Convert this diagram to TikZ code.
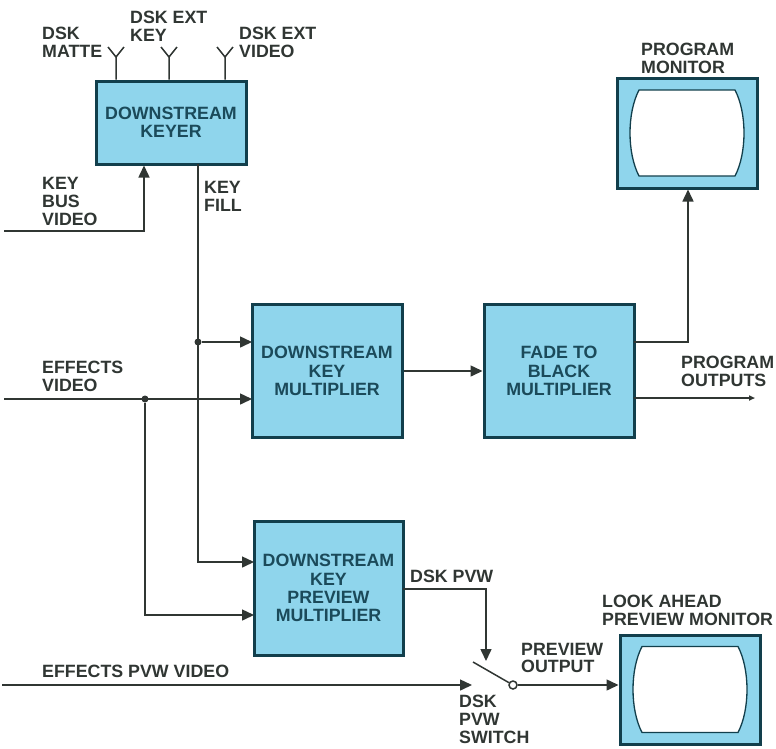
\documentclass[tikz,border=0pt]{standalone}
\usepackage{fontspec}
\setmainfont{Liberation Sans}
\usetikzlibrary{arrows.meta}
\definecolor{boxblue}{HTML}{8FD5EC}
\definecolor{boxline}{HTML}{123F4C}
\definecolor{boxtext}{HTML}{1B4A5A}
\definecolor{wiregray}{HTML}{303633}
\tikzset{
    block/.style={draw=boxline, line width=3pt, fill=boxblue, text=boxtext, align=center,
        font=\fontsize{17.8}{18.2}\selectfont\bfseries, minimum width=#1, inner sep=0pt},
    monitor/.style={draw=boxline, line width=3pt, fill=boxblue, inner sep=0pt},
    tag/.style={anchor=west, align=left, inner sep=0pt, text=wiregray,
        font=\fontsize{17.8}{17.8}\selectfont\bfseries},
    wire/.style={draw=wiregray, line width=1.5pt},
    feed/.style={wire, -{Triangle[length=12pt,width=11pt]}},
    junction/.style={circle, fill=wiregray, minimum size=7pt, inner sep=0pt},
    pics/screen/.style={code={
        \draw[boxline, line width=1.3pt, fill=white] (-48,-43) -- (48,-43)
            .. controls (60,-20) and (60,20) .. (48,43) -- (-48,43)
            .. controls (-60,20) and (-60,-20) .. (-48,-43) -- cycle;
    }}
}
\begin{document}
\begin{tikzpicture}[x=1pt,y=-1pt]
    \useasboundingbox (0,0) rectangle (776,748);

    % the blocks
    \node[block=150pt, minimum height=83pt] (keyer) at (171,122.5) {DOWNSTREAM\\KEYER};
    \node[block=150pt, minimum height=133pt] (keymult) at (327,371) {DOWNSTREAM\\KEY\\MULTIPLIER};
    \node[block=150pt, minimum height=133pt] (fade) at (559,371) {FADE TO\\BLACK\\MULTIPLIER};
    \node[block=149pt, minimum height=134pt] (pvwmult) at (328.5,588) {DOWNSTREAM\\KEY\\PREVIEW\\MULTIPLIER};

    % the monitors
    \node[monitor, minimum width=140pt, minimum height=110pt] (progmon) at (687,133) {};
    \pic at (progmon.center) {screen};
    \node[monitor, minimum width=140pt, minimum height=109pt] (pvwmon) at (690,689.5) {};
    \pic at (pvwmon.center) {screen};

    % three inputs on top of the keyer
    \coordinate (matte) at (116,57);
    \coordinate (extkey) at (169,57);
    \coordinate (extvideo) at (225,57);
    \foreach \ant in {matte,extkey,extvideo} {
        \draw[wire] (keyer.north -| \ant) -- (\ant) -- ++(-8,-10) (\ant) -- ++(8,-10);
    }
    \node[tag] (mattetag) at (42,42.5) {DSK\\MATTE};
    \node[tag] (extkeytag) at (130,26.5) {DSK EXT\\KEY};
    \node[tag] (extvideotag) at (239,42) {DSK EXT\\VIDEO};

    % key bus into the keyer
    \coordinate (busin) at (4,231);
    \coordinate (buscorner) at (144,231);
    \draw[feed] (busin) -- (buscorner) -- (keyer.south -| buscorner);
    \node[tag] (bustag) at (42,201.5) {KEY\\BUS\\VIDEO};

    % key fill down to both multipliers
    \coordinate (fillout) at (198,164);
    \coordinate (fillmult) at (252,342);
    \coordinate (fillpvw) at (254,562);
    \node[tag] (filltag) at (204,196) {KEY\\FILL};
    \node[junction] (filldot) at (fillout |- fillmult) {};
    \draw[feed] (fillout) -- (fillout |- fillpvw) -- (fillpvw);
    \draw[feed] (filldot) -- (fillmult);

    % effects video
    \coordinate (fxin) at (4,399);
    \coordinate (fxmult) at (252,399);
    \coordinate (fxpvw) at (254,615);
    \node[tag] (fxtag) at (42,376) {EFFECTS\\VIDEO};
    \node[junction] (fxdot) at (145,399) {};
    \draw[feed] (fxin) -- (fxmult);
    \draw[feed] (fxdot) -- (fxdot |- fxpvw) -- (fxpvw);

    % main path to the monitor and outputs
    \draw[feed] (keymult) -- (fade);
    \coordinate (fadeup) at (634,342);
    \coordinate (monfeed) at (688,342);
    \draw[feed] (fadeup) -- (monfeed) -- (progmon.south -| monfeed);
    \coordinate (fadeout) at (634,398);
    \coordinate (progout) at (755,398);
    \draw[wire, -{Triangle[length=6pt,width=5pt]}] (fadeout) -- (progout);
    \node[tag] (outtag) at (681,371) {PROGRAM\\OUTPUTS};
    \node[tag] (progtag) at (641,58) {PROGRAM\\MONITOR};

    % preview switch
    \node[circle, draw=wiregray, line width=1.5pt, minimum size=8pt, inner sep=0pt] (pole) at (513,685) {};
    \coordinate (blade) at (473,662);
    \draw[wire] (blade) -- (pole);
    \coordinate (pvwout) at (403,589);
    \coordinate (pvwdrop) at (486,661);
    \draw[feed] (pvwout) -- (pvwout -| pvwdrop) -- (pvwdrop);
    \coordinate (fxpvwin) at (2,685);
    \coordinate (fxpvwend) at (472,685);
    \draw[feed] (fxpvwin) -- (fxpvwend);
    \draw[feed] (pole) -- (pole -| pvwmon.west);

    \node[tag] (pvwtag) at (410,576) {DSK PVW};
    \node[tag] (fxpvwtag) at (42,671) {EFFECTS PVW VIDEO};
    \node[tag] (outputtag) at (521,658) {PREVIEW\\OUTPUT};
    \node[tag] (switchtag) at (459,719.5) {DSK\\PVW\\SWITCH};
    \node[tag] (looktag) at (602,610) {LOOK AHEAD\\PREVIEW MONITOR};
\end{tikzpicture}
\end{document}
